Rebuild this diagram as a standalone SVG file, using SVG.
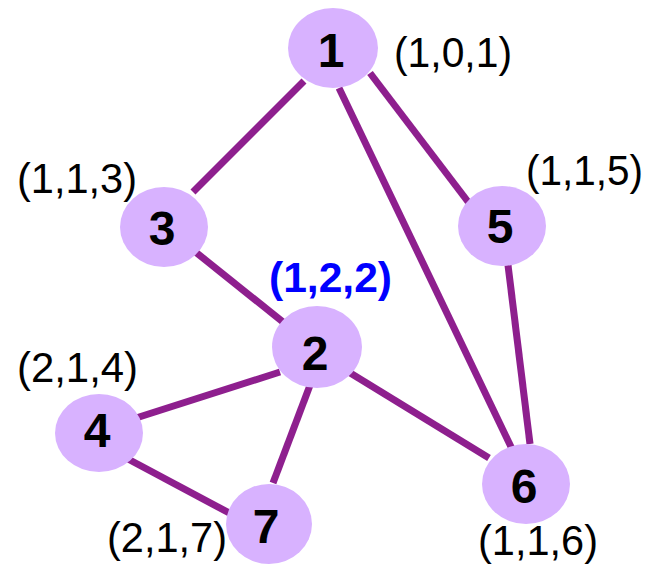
<svg xmlns="http://www.w3.org/2000/svg" width="652" height="565" viewBox="0 0 652 565">
<style>
.edge{stroke:#8E1F8E;stroke-width:7;stroke-linecap:butt;fill:none}
.node ellipse{fill:#D8B2FF;stroke:none}
.nl{font-family:"Liberation Sans",Arial,sans-serif;font-weight:bold;font-size:48px;fill:#000;text-anchor:middle}
.tag{font-family:"Liberation Sans",Arial,sans-serif;font-size:42px;fill:#000}
.hl{font-family:"Liberation Sans",Arial,sans-serif;font-size:42px;font-weight:bold;fill:#0000FF}
</style>
<rect width="652" height="565" fill="#fff"/>
<g id="connectors">
<line class="edge" x1="304" y1="81" x2="193" y2="192"/>
<line class="edge" x1="339" y1="88" x2="513" y2="451"/>
<line class="edge" x1="370" y1="73" x2="472" y2="207"/>
<line class="edge" x1="193" y1="250" x2="283" y2="322"/>
<line class="edge" x1="508" y1="265" x2="530" y2="444"/>
<line class="edge" x1="347" y1="371" x2="489" y2="458"/>
<line class="edge" x1="280" y1="372" x2="136" y2="418"/>
<line class="edge" x1="312" y1="380" x2="273" y2="483"/>
<line class="edge" x1="128" y1="459" x2="233" y2="515"/>
</g>
<g id="node1" class="node"><ellipse cx="333" cy="48" rx="45" ry="40"/><text class="nl" x="331" y="67">1</text></g>
<g id="node3" class="node"><ellipse cx="164" cy="227" rx="44" ry="40"/><text class="nl" x="162" y="245">3</text></g>
<g id="node5" class="node"><ellipse cx="502" cy="226" rx="44" ry="40"/><text class="nl" x="500" y="243">5</text></g>
<g id="node2" class="node"><ellipse cx="317" cy="347" rx="45" ry="41"/><text class="nl" x="315" y="370">2</text></g>
<g id="node4" class="node"><ellipse cx="99" cy="433" rx="44" ry="39"/><text class="nl" x="97" y="447">4</text></g>
<g id="node7" class="node"><ellipse cx="269" cy="524" rx="43" ry="40"/><text class="nl" x="266" y="543">7</text></g>
<g id="node6" class="node"><ellipse cx="526" cy="484" rx="44" ry="40"/><text class="nl" x="524" y="503">6</text></g>
<g id="labels">
<text class="tag" x="394" y="67" textLength="118" lengthAdjust="spacingAndGlyphs">(1,0,1)</text>
<text class="tag" x="17" y="193" textLength="120" lengthAdjust="spacingAndGlyphs">(1,1,3)</text>
<text class="tag" x="526" y="185" textLength="117" lengthAdjust="spacingAndGlyphs">(1,1,5)</text>
<text class="hl" x="269" y="292" textLength="123" lengthAdjust="spacingAndGlyphs">(1,2,2)</text>
<text class="tag" x="17" y="382" textLength="121" lengthAdjust="spacingAndGlyphs">(2,1,4)</text>
<text class="tag" x="107" y="552" textLength="120" lengthAdjust="spacingAndGlyphs">(2,1,7)</text>
<text class="tag" x="478" y="555" textLength="120" lengthAdjust="spacingAndGlyphs">(1,1,6)</text>
</g>
</svg>
